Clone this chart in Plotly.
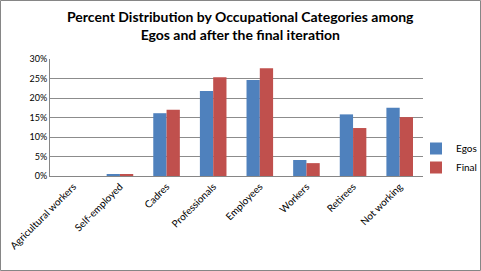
import plotly.graph_objects as go

categories = ["Agricultural workers", "Self-employed", "Cadres", "Professionals",
              "Employees", "Workers", "Retirees", "Not working"]
egos = [0.0, 0.5, 16.1, 21.8, 24.6, 4.1, 15.8, 17.5]
final = [0.0, 0.3, 17.0, 25.3, 27.6, 3.3, 12.3, 15.1]
tick_vals = [0, 5, 10, 15, 20, 25, 30]
tick_text = ["0%", "5%", "10%", "15%", "20%", "25%", "30%"]

W, H = 481, 271
L, R, T, B = 50, 58, 59, 95
pw, ph = W - L - R, H - T - B

fig = go.Figure()
fig.add_trace(go.Bar(name="Egos", x=categories, y=egos, marker_color="#4F81BD",
                     marker_line_width=0))
fig.add_trace(go.Bar(name="Final", x=categories, y=final, marker_color="#C0504D",
                     marker_line_width=0))

fig.update_layout(
    width=W, height=H,
    margin=dict(l=L, r=R, t=T, b=B, autoexpand=False),
    barmode="group", bargap=0.43, bargroupgap=0,
    paper_bgcolor="white", plot_bgcolor="white",
    font=dict(family="Lato", size=10, color="#000000"),
    legend=dict(x=(416 - L) / pw, y=(176 - 158) / ph, xanchor="left", yanchor="middle",
                font=dict(size=10), itemwidth=30, tracegroupgap=2,
                bgcolor="rgba(0,0,0,0)"),
    xaxis=dict(tickangle=-45, showline=True, linecolor="#868686", linewidth=1,
               ticks="", tickfont=dict(size=10), automargin=False),
    yaxis=dict(range=[0, 30], tickvals=tick_vals, ticktext=tick_text,
               showgrid=True, gridcolor="#8c8c8c", gridwidth=1,
               showline=True, linecolor="#868686", linewidth=1,
               ticks="", zeroline=False, tickfont=dict(size=9), automargin=False),
    annotations=[dict(text="<b>Percent Distribution by Occupational Categories among<br>Egos and after the final iteration</b>",
                      xref="paper", yref="paper", x=(240 - L) / pw, y=1 + (T - 6) / ph,
                      xanchor="center", yanchor="top", showarrow=False,
                      font=dict(family="Lato", size=14, color="#000000"))],
    shapes=[dict(type="rect", xref="paper", yref="paper",
                 x0=-(L - 0.5) / pw, x1=1 + (R - 0.5) / pw,
                 y0=-(B - 0.5) / ph, y1=1 + (T - 0.5) / ph,
                 line=dict(color="#868686", width=1), layer="below")],
)

fig.write_html("out.html", config={"displayModeBar": False},
               post_script="document.body.style.margin='0';document.body.style.overflow='hidden';")
